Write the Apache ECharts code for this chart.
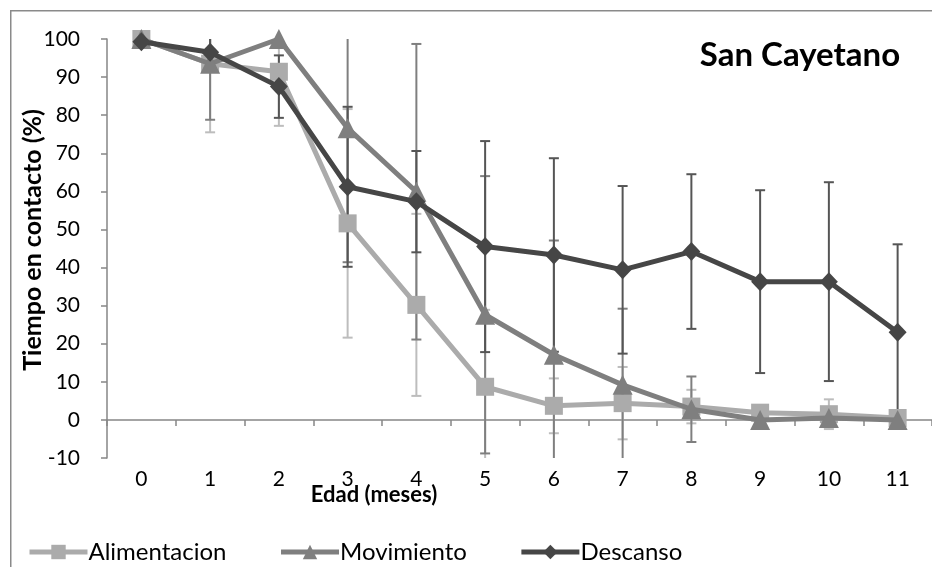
<!DOCTYPE html>
<html>
<head>
<meta charset="utf-8">
<script src="https://cdn.jsdelivr.net/npm/echarts@6/dist/echarts.min.js"></script>
<style>
html,body{margin:0;padding:0;background:#fff;}
#chart{width:932px;height:567px;}
</style>
</head>
<body>
<div id="chart"></div>
<script>
const categories = ['0','1','2','3','4','5','6','7','8','9','10','11'];
const yTicks = [-10,0,10,20,30,40,50,60,70,80,90,100];

const alimentacion = [100, 93.5, 91.4, 51.6, 30.2, 8.7, 3.7, 4.4, 3.5, 1.9, 1.5, 0.5];
const alimentacionErr = [0, 18, 14.2, 30, 23.9, 20.2, 7.2, 9.5, 4.4, 2.0, 3.9, 0];

const movimiento = [100, 93.5, 100, 76.6, 59.9, 27.6, 17.1, 9.2, 2.8, 0, 0.5, 0];
const movimientoErr = [0, 14.7, 0, 35.2, 38.8, 36.4, 30, 20, 8.6, 0, 0, 0];

const descanso = [99.3, 96.5, 87.5, 61.2, 57.3, 45.5, 43.3, 39.4, 44.2, 36.3, 36.3, 23.0];
const descansoErr = [0, 3.6, 8.2, 21, 13.3, 27.7, 25.4, 22, 20.3, 24, 26.1, 23.1];

const FONT = 'Lato, "Open Sans", sans-serif';
const Y_MIN = yTicks[0], Y_MAX = yTicks[yTicks.length - 1];

function errSeries(name, vals, errs, color) {
  return {
    type: 'custom',
    name: name + ' err',
    z: 1,
    silent: true,
    data: vals.map((v, i) => [i, v, errs[i]]),
    renderItem: function (params, api) {
      const x = api.value(0), v = api.value(1), e = api.value(2);
      if (!e) return null;
      const hiV = v + e, loV = v - e;
      const hi = Math.min(hiV, Y_MAX), lo = Math.max(loV, Y_MIN);
      const pHi = api.coord([x, hi]);
      const pLo = api.coord([x, lo]);
      const hw = 5;
      const style = { stroke: color, lineWidth: 2, fill: null };
      const children = [{
        type: 'line', shape: { x1: pHi[0], y1: pHi[1], x2: pLo[0], y2: pLo[1] }, style: style
      }];
      if (hiV <= Y_MAX) children.push({ type: 'line', shape: { x1: pHi[0] - hw, y1: pHi[1], x2: pHi[0] + hw, y2: pHi[1] }, style: style });
      if (loV >= Y_MIN) children.push({ type: 'line', shape: { x1: pLo[0] - hw, y1: pLo[1], x2: pLo[0] + hw, y2: pLo[1] }, style: style });
      return { type: 'group', children: children };
    }
  };
}

function lineSeries(name, vals, color, symbol, size, z) {
  return {
    type: 'line',
    name: name,
    data: vals,
    z: z,
    symbol: symbol,
    symbolSize: size,
    showAllSymbol: true,
    lineStyle: { color: color, width: 5 },
    itemStyle: { color: color, borderWidth: 0 },
    emphasis: { disabled: true },
    animation: false
  };
}

const chart = echarts.init(document.getElementById('chart'), null, { renderer: 'canvas' });
chart.setOption({
  animation: false,
  backgroundColor: '#ffffff',
  textStyle: { fontFamily: FONT },
  grid: { left: 107, right: -3, top: 39, bottom: 109, containLabel: false },
  graphic: [
    { type: 'rect', left: 10, top: 10, z: -10, shape: { width: 960, height: 600 },
      style: { fill: '#ffffff', stroke: '#8a8a8a', lineWidth: 1.5 } },
    { type: 'text', x: 800, y: 55, z: 10,
      style: { text: 'San Cayetano', fontFamily: FONT, fontWeight: 'bold', fontSize: 33, fill: '#000', align: 'center', verticalAlign: 'middle' } },
    { type: 'text', x: 374, y: 495, z: 10,
      style: { text: 'Edad (meses)', fontFamily: FONT, fontWeight: 'bold', fontSize: 22, fill: '#000', align: 'center', verticalAlign: 'middle' } },
    { type: 'text', x: 33, y: 240, rotation: Math.PI / 2, z: 10,
      style: { text: 'Tiempo en contacto (%)', fontFamily: FONT, fontWeight: 'bold', fontSize: 25, fill: '#000', align: 'center', verticalAlign: 'middle' } }
  ],
  legend: {
    left: 22, top: 535, itemGap: 52, itemWidth: 58, itemHeight: 18,
    textStyle: { fontFamily: FONT, fontSize: 24, color: '#000', padding: [0, 0, 0, -4] },
    lineStyle: { width: 5 },
    data: ['Alimentacion', 'Movimiento', 'Descanso'],
    selectedMode: false
  },
  xAxis: {
    type: 'category',
    data: categories,
    boundaryGap: true,
    axisLine: { onZero: true, lineStyle: { color: '#868686', width: 1.5 } },
    axisTick: { show: true, interval: 0, length: 6, lineStyle: { color: '#868686', width: 1.5 } },
    axisLabel: { interval: 0, fontFamily: FONT, fontSize: 21, color: '#000', margin: 11 },
    splitLine: { show: false }
  },
  yAxis: {
    type: 'value',
    min: Y_MIN, max: Y_MAX, interval: 10,
    axisLine: { show: true, onZero: false, lineStyle: { color: '#868686', width: 1.5 } },
    axisTick: { show: true, length: 6, lineStyle: { color: '#868686', width: 1.5 } },
    axisLabel: { fontFamily: FONT, fontSize: 21, color: '#000', margin: 27 },
    splitLine: { show: false }
  },
  series: [
    errSeries('Alimentacion', alimentacion, alimentacionErr, '#bdbdbd'),
    errSeries('Movimiento', movimiento, movimientoErr, '#7f7f7f'),
    errSeries('Descanso', descanso, descansoErr, '#555555'),
    lineSeries('Alimentacion', alimentacion, '#ababab', 'rect', 18, 3),
    lineSeries('Movimiento', movimiento, '#7f7f7f', 'triangle', 20, 4),
    lineSeries('Descanso', descanso, '#464646', 'diamond', [18, 19], 5)
  ]
});
</script>
</body>
</html>
